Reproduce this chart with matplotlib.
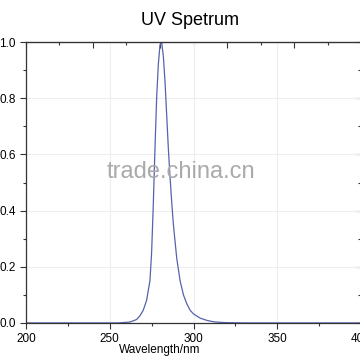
import matplotlib
matplotlib.use('Agg')
import matplotlib.pyplot as plt
from matplotlib.ticker import MultipleLocator

# data
wavelength = [200, 255, 262, 266, 268, 270, 272, 274, 275, 276, 277, 278, 279, 280, 281,
              282, 283, 284, 285, 286, 287, 288, 290, 292, 294, 296, 298, 300, 304, 308,
              312, 316, 320, 330, 400]
absorbance = [0.0, 0.0, 0.003, 0.012, 0.025, 0.045, 0.08, 0.15, 0.25, 0.42, 0.62, 0.80, 0.92, 0.99, 1.0,
              0.95, 0.86, 0.74, 0.62, 0.52, 0.43, 0.35, 0.23, 0.15, 0.10, 0.068, 0.045, 0.032, 0.017, 0.009,
              0.004, 0.002, 0.001, 0.0, 0.0]

matplotlib.rcParams['font.family'] = ['Liberation Sans', 'DejaVu Sans']

fig = plt.figure(figsize=(3.6, 3.6), dpi=100)
ax = fig.add_axes([0.072, 0.103, 0.931, 0.78])

ax.plot(wavelength, absorbance, color='#5563ad', linewidth=0.9)

ax.set_xlim(200, 400)
ax.set_ylim(0, 1.0)
ax.xaxis.set_major_locator(MultipleLocator(50))
ax.xaxis.set_minor_locator(MultipleLocator(25))
ax.yaxis.set_major_locator(MultipleLocator(0.2))
ax.yaxis.set_minor_locator(MultipleLocator(0.1))
ax.yaxis.set_major_formatter(matplotlib.ticker.FormatStrFormatter('%.1f'))

ax.tick_params(which='both', direction='out', labelsize=8.5, color='#333333', width=0.8)
ax.tick_params(which='major', length=4)
ax.tick_params(which='minor', length=2.5)

ax.grid(True, which='major', color='#eeeeee', linewidth=0.8)
for s in ax.spines.values():
    s.set_color('#333333')
    s.set_linewidth(0.9)

# top and right ticks, pointing inward
top = ax.secondary_xaxis('top')
top.xaxis.set_major_locator(MultipleLocator(40))
top.xaxis.set_minor_locator(MultipleLocator(20))
top.tick_params(which='both', direction='in', labeltop=False, color='#333333', width=0.8)
top.tick_params(which='major', length=4)
top.tick_params(which='minor', length=2.5)
right = ax.secondary_yaxis('right')
right.yaxis.set_major_locator(MultipleLocator(0.2))
right.yaxis.set_minor_locator(MultipleLocator(0.1))
right.tick_params(which='both', direction='in', labelright=False, color='#333333', width=0.8)
right.tick_params(which='major', length=4)
right.tick_params(which='minor', length=2.5)

ax.set_title('UV Spetrum', fontsize=13, pad=12, x=0.49)
ax.set_xlabel('Wavelength/nm', fontsize=8.5, labelpad=0)
ax.xaxis.set_label_coords(0.40, -0.075)

ax.text(0.464, 0.537, 'trade.china.cn', transform=ax.transAxes, ha='center', va='center',
        fontsize=17, color='#aaaaaa', zorder=5)

fig.savefig('out.png', dpi=100)
